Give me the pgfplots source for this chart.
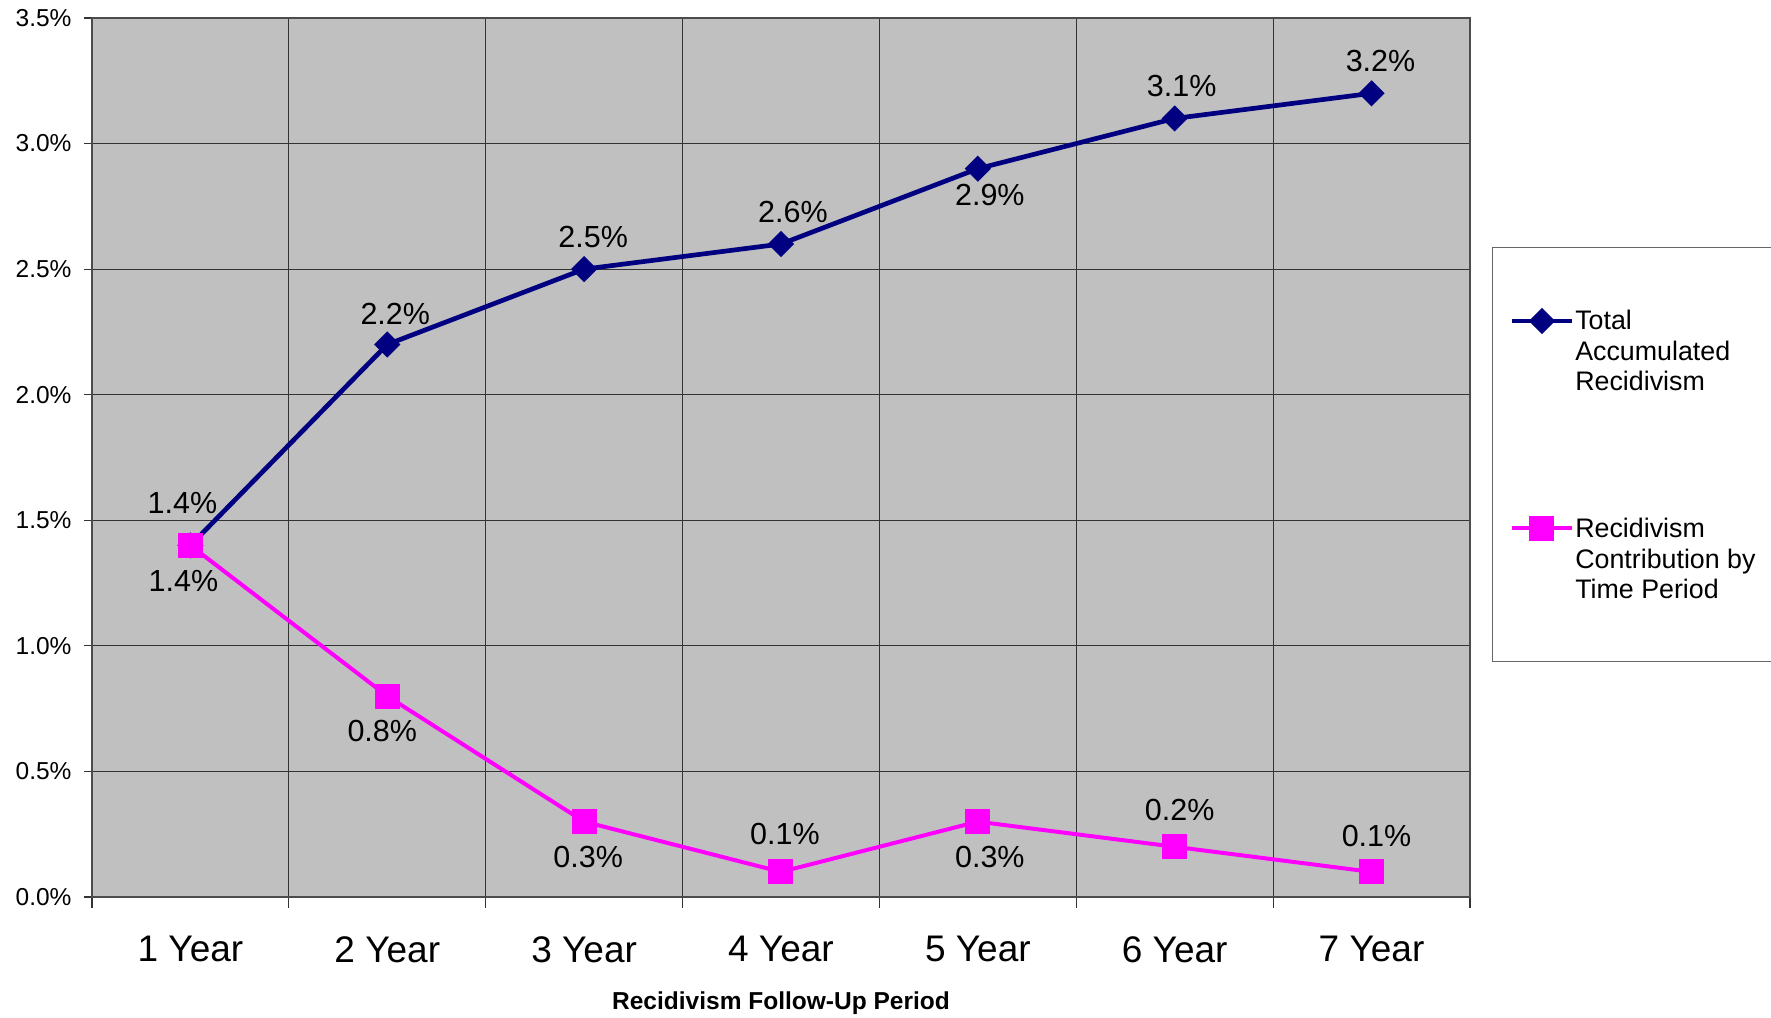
\documentclass[border=0pt]{standalone}
\usepackage{fontspec}
\setmainfont{Liberation Sans}
\usepackage{pgfplots}
\usepackage{pgfplotstable}
\pgfplotsset{compat=1.18}
\definecolor{navyline}{RGB}{0,0,128}
\definecolor{magline}{RGB}{255,0,255}
\definecolor{plotbg}{RGB}{192,192,192}
\newcommand\datafont{\fontsize{30.5bp}{34bp}\selectfont}
\newcommand\legfont{\fontsize{26.8bp}{30.5bp}\selectfont}

\pgfplotstableread{
x total tdx tdy contrib cdx cdy
1 1.4 -8 42 1.4 -7 -36
2 2.2 8 31 0.8 -5 -35
3 2.5 9 32 0.3 4 -35
4 2.6 12 32 0.1 4 38
5 2.9 12 -26 0.3 12 -35
6 3.1 7 32 0.2 5 37
7 3.2 9 32 0.1 5 36
}\recid

\begin{document}
\begin{tikzpicture}
\begin{axis}[
  name=ax,
  scale only axis,
  width=1378bp, height=879bp,
  xmin=0.5, xmax=7.5, ymin=0, ymax=3.5,
  axis background/.style={fill=plotbg},
  /pgf/number format/assume math mode=true,
  xtick={1,2,3,4,5,6,7},
  xticklabels={1 Year,2 Year,3 Year,4 Year,5 Year,6 Year,7 Year},
  minor xtick={0.5,1.5,2.5,3.5,4.5,5.5,6.5,7.5},
  ytick={0,0.5,1,1.5,2,2.5,3,3.5},
  yticklabel={\pgfmathprintnumber[fixed,fixed zerofill,precision=1]{\tick}\%},
  tick pos=left,
  tick align=outside,
  major tick length=8bp,
  minor tick length=11bp,
  every major x tick/.append style={draw=none},
  tick style={draw=black!80, line width=1.2bp},
  ymajorgrids=true,
  xminorgrids=true,
  major grid style={draw=black!80, line width=1bp},
  minor grid style={draw=black!80, line width=1bp},
  axis line style={draw=black!70, line width=1.6bp},
  xticklabel style={font=\fontsize{37bp}{41bp}\selectfont, yshift=-28bp},
  yticklabel style={font=\fontsize{24.5bp}{28bp}\selectfont, xshift=-9bp},
  xlabel={\textbf{Recidivism Follow-Up Period}},
  xlabel style={font=\fontsize{24.5bp}{28bp}\selectfont, at={(axis description cs:0.5,0)}, anchor=base, yshift=-112bp},
  legend image code/.code={\draw[mark repeat=2,mark phase=2,#1] plot coordinates {(0bp,0bp) (30bp,0bp) (60bp,0bp)};},
  legend style={at={(1.016,0.7395)}, anchor=north west, draw=black!60, line width=1.2bp, fill=white,
    inner xsep=17bp, inner ysep=63bp, row sep=127bp, column sep=1bp, font=\legfont,
    cells={anchor=north west},
    nodes={align=left, anchor=north west, inner sep=0pt, yshift=11bp, text depth=0pt}},
]
\addplot[navyline, line width=4.7bp, mark=square*, mark size=6.9bp, mark options={rotate=45, solid},
  point meta=y,
  nodes near coords={\pgfmathprintnumber[fixed,fixed zerofill,precision=1]{\pgfplotspointmeta}\%},
  visualization depends on={\thisrow{tdx} \as \ldx},
  visualization depends on={\thisrow{tdy} \as \ldy},
  every node near coord/.append style={black, font=\datafont, anchor=center, xshift=\ldx bp, yshift=\ldy bp}]
  table[x=x, y=total] {\recid};
\addlegendentry{Total\\Accumulated\\Recidivism}
\addplot[magline, line width=4bp, mark=square*, mark size=10.5bp, mark options={solid},
  point meta=y,
  nodes near coords={\pgfmathprintnumber[fixed,fixed zerofill,precision=1]{\pgfplotspointmeta}\%},
  visualization depends on={\thisrow{cdx} \as \ldx},
  visualization depends on={\thisrow{cdy} \as \ldy},
  every node near coord/.append style={black, font=\datafont, anchor=center, xshift=\ldx bp, yshift=\ldy bp}]
  table[x=x, y=contrib] {\recid};
\addlegendentry{Recidivism\\Contribution by\\Time Period}
\coordinate (bbsw) at (rel axis cs:0,0);
\end{axis}
\pgfresetboundingbox
\useasboundingbox (bbsw) ++(-92bp,-121bp) rectangle ++(1771bp,1018bp);
\end{tikzpicture}
\end{document}
